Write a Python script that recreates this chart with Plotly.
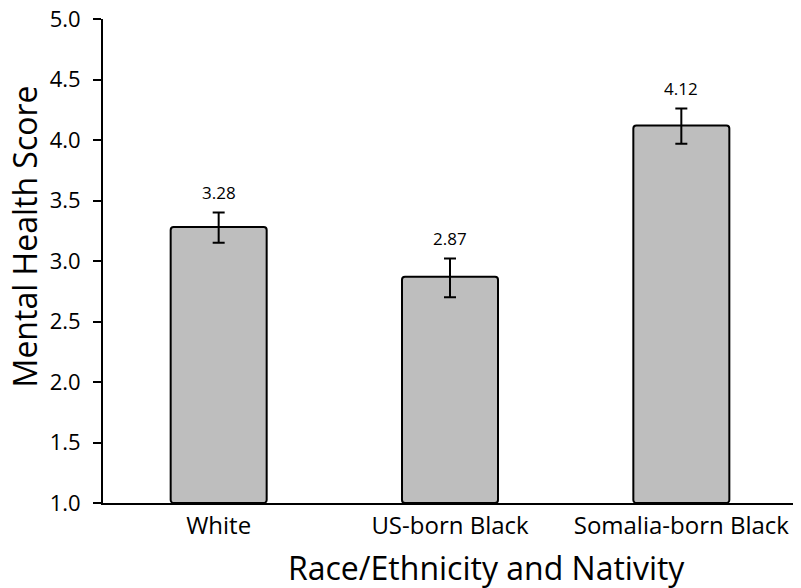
import plotly.graph_objects as go

categories = ["White", "US-born Black", "Somalia-born Black"]
scores = [3.28, 2.87, 4.12]
err_plus = [0.12, 0.15, 0.14]
err_minus = [0.13, 0.17, 0.15]
value_labels = ["3.28", "2.87", "4.12"]
x_title = "Race/Ethnicity and Nativity"
y_title = "Mental Health Score"

FONT = "Open Sans, DejaVu Sans, sans-serif"

fig = go.Figure()
fig.add_trace(go.Bar(
    x=categories, y=[s - 1.0 for s in scores], base=1.0,
    marker=dict(color="#bebebe", line=dict(color="black", width=2), cornerradius=3),
    error_y=dict(type="data", array=err_plus, arrayminus=err_minus,
                 color="black", thickness=2, width=6),
    width=0.415, hoverinfo="skip",
))

for cat, s, e, lab in zip(categories, scores, err_plus, value_labels):
    fig.add_annotation(x=cat, y=s + e, text=lab, showarrow=False,
                       xanchor="center", yanchor="bottom", yshift=7,
                       font=dict(size=17, color="black", family=FONT))

fig.add_annotation(xref="paper", yref="paper", x=0.552, y=-0.134, text=x_title,
                   showarrow=False, xanchor="center", yanchor="middle",
                   font=dict(size=32, color="black", family=FONT))
fig.add_annotation(xref="paper", yref="paper", x=-0.113, y=0.55, text=y_title,
                   showarrow=False, xanchor="center", yanchor="middle", textangle=-90,
                   font=dict(size=32, color="black", family=FONT))

fig.update_layout(
    width=801, height=588,
    margin=dict(l=95, r=12, t=11, b=93, autoexpand=False),
    plot_bgcolor="white", paper_bgcolor="white",
    showlegend=False,
    font=dict(family=FONT, color="black"),
    xaxis=dict(
        range=[-0.5, 2.5], showline=True, linecolor="black", linewidth=2,
        ticks="", tickfont=dict(size=24), showgrid=False, automargin=False,
    ),
    yaxis=dict(
        range=[1.0, 5.0], tickvals=[1.0, 1.5, 2.0, 2.5, 3.0, 3.5, 4.0, 4.5, 5.0],
        tickformat=".1f", showline=True, linecolor="black", linewidth=2,
        ticks="outside", ticklen=8, tickwidth=2, tickcolor="black",
        tickfont=dict(size=22), showgrid=False, zeroline=False,
        ticklabelstandoff=8, ticklabeloverflow="allow", automargin=False,
    ),
)

fig.write_html("out.html")
